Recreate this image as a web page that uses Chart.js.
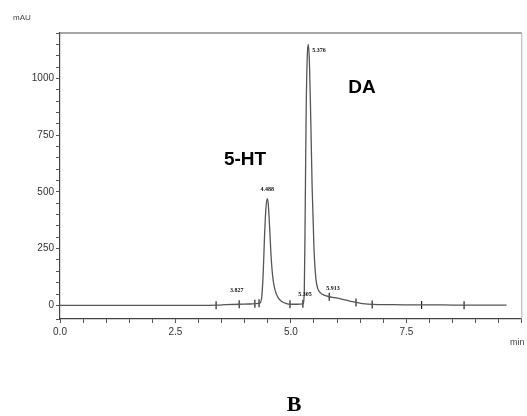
<!DOCTYPE html>
<html>
<head>
<meta charset="utf-8">
<script src="https://cdn.jsdelivr.net/npm/chart.js@4.4.1/dist/chart.umd.min.js"></script>
<style>
  html, body { margin: 0; padding: 0; background: #fff; }
  #chromatogram { display: block; }
</style>
</head>
<body>
<canvas id="chromatogram" width="527" height="416"></canvas>
<script>
// chromatogram trace (min, mAU)
const times = [0, 1.0, 2.0, 3.0, 3.4, 3.6, 3.88, 4.1, 4.25, 4.33, 4.37, 4.40, 4.43, 4.46, 4.488, 4.51, 4.54, 4.57, 4.61, 4.66, 4.72, 4.80, 4.90, 5.0, 5.15, 5.26, 5.29, 5.31, 5.33, 5.355, 5.376, 5.40, 5.43, 5.46, 5.50, 5.54, 5.58, 5.64, 5.72, 5.83, 5.95, 6.10, 6.25, 6.41, 6.55, 6.76, 7.2, 7.83, 8.3, 8.75, 9.2, 9.67];
const absorbance = [0, 0, 0, 0, 1, 3, 5, 6, 8, 10, 40, 140, 310, 430, 470, 445, 340, 220, 120, 65, 35, 17, 8, 5, 5, 7, 60, 420, 850, 1100, 1150, 1080, 820, 520, 250, 120, 75, 55, 45, 38, 34, 28, 20, 13, 8, 4, 3, 2, 2, 1, 1, 1];

// integration event marks along the baseline
const eventTimes = [3.38, 3.88, 4.22, 4.31, 4.98, 5.26, 5.83, 6.41, 6.76, 7.83, 8.75];
const eventLevels = [1, 5, 7, 9, 5, 7, 38, 13, 4, 2, 1];

// retention time labels
const peakTimes = [3.827, 4.488, 5.305, 5.376, 5.913];
const peakLabels = ['3.827', '4.488', '5.305', '5.376', '5.913'];
const peakLevels = [65, 510, 48, 1140, 75];

// axis ticks
const xLabelTicks = [0, 2.5, 5, 7.5];
const yLabelTicks = [0, 250, 500, 750, 1000];

const compoundNames = ['5-HT', 'DA'];

const textPlugin = {
    id: 'textPlugin',
    afterDraw(chart) {
        const ctx = chart.ctx;
        const area = chart.chartArea;
        const xs = chart.scales.x;
        const ys = chart.scales.y;

        // top and right frame
        ctx.save();
        ctx.strokeStyle = '#8a8a8a';
        ctx.lineWidth = 1.5;
        ctx.beginPath();
        ctx.moveTo(area.left, area.top);
        ctx.lineTo(area.right, area.top);
        ctx.stroke();
        ctx.strokeStyle = '#b0b0b0';
        ctx.lineWidth = 1;
        ctx.beginPath();
        ctx.moveTo(area.right, area.top);
        ctx.lineTo(area.right, area.bottom);
        ctx.stroke();

        // retention times
        ctx.fillStyle = '#111';
        ctx.font = 'bold 6px "Liberation Serif"';
        ctx.textBaseline = 'middle';
        peakTimes.forEach((t, i) => {
            let px = xs.getPixelForValue(t);
            let py = ys.getPixelForValue(peakLevels[i]);
            if (peakLabels[i] === '5.376') {
                ctx.textAlign = 'left';
                px += 4;
                py += 4;
            } else {
                ctx.textAlign = 'center';
            }
            ctx.fillText(peakLabels[i], px, py);
        });

        // compound names
        ctx.fillStyle = '#000';
        ctx.font = 'bold 19px "Liberation Sans"';
        ctx.textAlign = 'center';
        ctx.fillText(compoundNames[0], 245, 160);
        ctx.fillText(compoundNames[1], 362, 88);

        // units
        ctx.fillStyle = '#444';
        ctx.font = '8px "Liberation Sans"';
        ctx.textAlign = 'left';
        ctx.fillText('mAU', 13, 18);
        ctx.font = '9px "Liberation Sans"';
        ctx.fillText('min', 510, 343);

        // panel letter
        ctx.fillStyle = '#000';
        ctx.font = 'bold 22px "Liberation Serif"';
        ctx.textAlign = 'center';
        ctx.fillText('B', 294, 405);
        ctx.restore();
    }
};

new Chart(document.getElementById('chromatogram'), {
    type: 'scatter',
    data: {
        datasets: [{
            type: 'line',
            label: 'trace',
            data: times.map((t, i) => ({ x: t, y: absorbance[i] })),
            borderColor: '#555',
            borderWidth: 1.3,
            pointRadius: 0,
            cubicInterpolationMode: 'monotone',
            fill: false
        }, {
            label: 'events',
            data: eventTimes.map((t, i) => ({ x: t, y: eventLevels[i] })),
            pointStyle: 'line',
            rotation: 90,
            radius: 4,
            borderColor: '#222',
            borderWidth: 1.2
        }]
    },
    options: {
        responsive: false,
        animation: false,
        devicePixelRatio: 1,
        layout: { padding: { left: 0, right: 4, top: 33, bottom: 67 } },
        plugins: {
            legend: { display: false },
            tooltip: { enabled: false }
        },
        scales: {
            x: {
                type: 'linear',
                min: 0,
                max: 10,
                afterFit: scale => { scale.height = 30; },
                ticks: {
                    stepSize: 0.5,
                    autoSkip: false,
                    maxRotation: 0,
                    padding: 3,
                    color: '#333',
                    font: { family: 'Liberation Sans', size: 10 },
                    callback: v => xLabelTicks.includes(v) ? v.toFixed(1) : ''
                },
                grid: { drawOnChartArea: false, tickLength: 4, color: '#555' },
                border: { color: '#444', width: 1.2 }
            },
            y: {
                min: -60,
                max: 1200,
                afterFit: scale => { scale.width = 60; },
                ticks: {
                    stepSize: 50,
                    autoSkip: false,
                    padding: 2,
                    color: '#333',
                    font: { family: 'Liberation Sans', size: 10 },
                    callback: v => yLabelTicks.includes(v) ? String(v) : ''
                },
                grid: { drawOnChartArea: false, tickLength: 4, color: '#555' },
                border: { color: '#444', width: 1.2 }
            }
        }
    },
    plugins: [textPlugin]
});
</script>
</body>
</html>
